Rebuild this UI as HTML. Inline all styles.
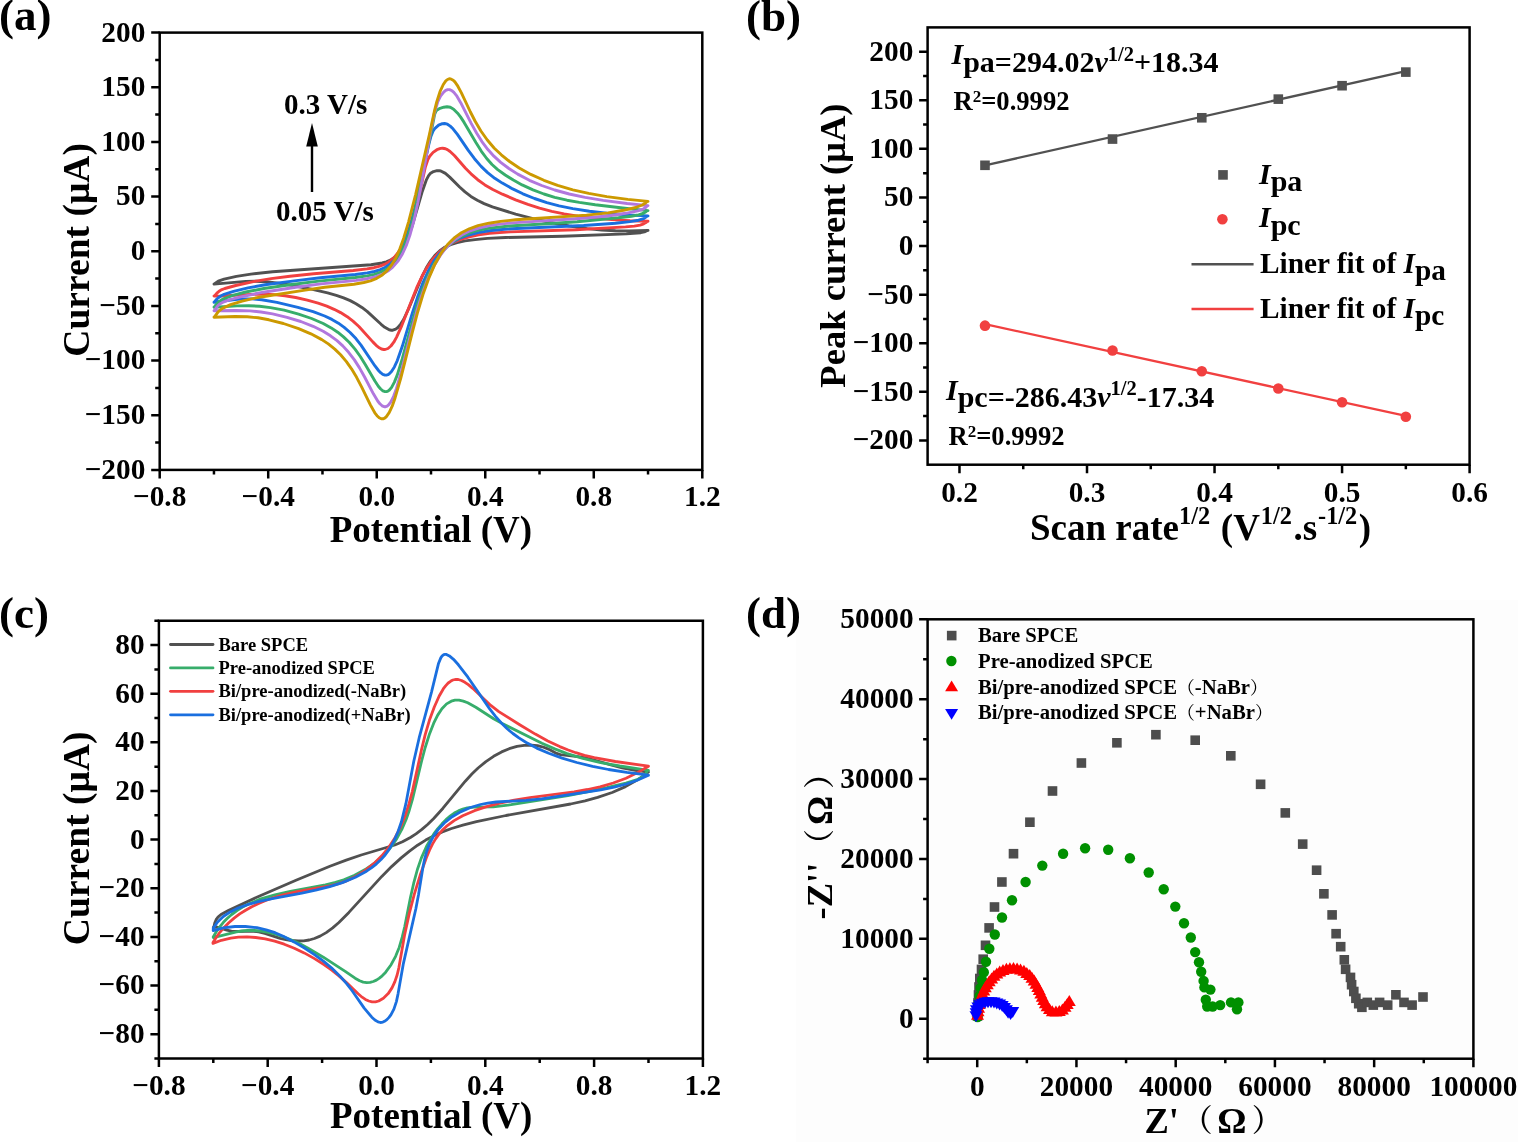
<!DOCTYPE html>
<html><head><meta charset="utf-8"><style>html,body{margin:0;padding:0;background:#fff;}svg{display:block}</style></head>
<body><svg width="1518" height="1142" viewBox="0 0 1518 1142" font-family="'Liberation Serif', 'Noto Serif CJK SC', serif" font-weight="bold">
<rect width="1518" height="1142" fill="#fff"/>
<rect x="796" y="600" width="722" height="542" fill="#fdfdfd"/>
<g fill="#4d4d4d"><rect x="972.7" y="1011.2" width="9.6" height="9.6"/><rect x="972.9" y="1005.2" width="9.6" height="9.6"/><rect x="973.2" y="998.2" width="9.6" height="9.6"/><rect x="973.7" y="990.2" width="9.6" height="9.6"/><rect x="974.2" y="982.2" width="9.6" height="9.6"/><rect x="975.0" y="973.7" width="9.6" height="9.6"/><rect x="976.7" y="964.6" width="9.6" height="9.6"/><rect x="978.4" y="954.4" width="9.6" height="9.6"/><rect x="980.7" y="940.5" width="9.6" height="9.6"/><rect x="984.3" y="923.1" width="9.6" height="9.6"/><rect x="989.7" y="902.2" width="9.6" height="9.6"/><rect x="997.1" y="877.2" width="9.6" height="9.6"/><rect x="1008.7" y="848.9" width="9.6" height="9.6"/><rect x="1025.1" y="817.4" width="9.6" height="9.6"/><rect x="1047.7" y="786.2" width="9.6" height="9.6"/><rect x="1076.6" y="758.2" width="9.6" height="9.6"/><rect x="1112.1" y="738.0" width="9.6" height="9.6"/><rect x="1151.1" y="729.9" width="9.6" height="9.6"/><rect x="1190.4" y="735.4" width="9.6" height="9.6"/><rect x="1226.0" y="751.0" width="9.6" height="9.6"/><rect x="1255.8" y="779.5" width="9.6" height="9.6"/><rect x="1280.5" y="808.1" width="9.6" height="9.6"/><rect x="1297.9" y="839.3" width="9.6" height="9.6"/><rect x="1311.8" y="865.4" width="9.6" height="9.6"/><rect x="1319.1" y="889.0" width="9.6" height="9.6"/><rect x="1327.3" y="910.1" width="9.6" height="9.6"/><rect x="1331.3" y="928.9" width="9.6" height="9.6"/><rect x="1335.9" y="941.9" width="9.6" height="9.6"/><rect x="1339.5" y="955.0" width="9.6" height="9.6"/><rect x="1340.8" y="964.5" width="9.6" height="9.6"/><rect x="1345.7" y="972.6" width="9.6" height="9.6"/><rect x="1346.8" y="979.9" width="9.6" height="9.6"/><rect x="1349.0" y="986.7" width="9.6" height="9.6"/><rect x="1351.1" y="993.5" width="9.6" height="9.6"/><rect x="1353.9" y="998.9" width="9.6" height="9.6"/><rect x="1357.1" y="1002.5" width="9.6" height="9.6"/><rect x="1362.5" y="997.6" width="9.6" height="9.6"/><rect x="1368.5" y="1000.3" width="9.6" height="9.6"/><rect x="1374.8" y="997.6" width="9.6" height="9.6"/><rect x="1382.9" y="1000.3" width="9.6" height="9.6"/><rect x="1391.1" y="990.0" width="9.6" height="9.6"/><rect x="1399.2" y="997.6" width="9.6" height="9.6"/><rect x="1407.3" y="1000.3" width="9.6" height="9.6"/><rect x="1418.2" y="992.2" width="9.6" height="9.6"/></g>
<g fill="#009000"><circle cx="977.6" cy="1017.0" r="5.2"/><circle cx="978.0" cy="1011.0" r="5.2"/><circle cx="978.5" cy="1004.0" r="5.2"/><circle cx="979.5" cy="996.0" r="5.2"/><circle cx="980.5" cy="988.0" r="5.2"/><circle cx="982.0" cy="980.0" r="5.2"/><circle cx="983.8" cy="972.2" r="5.2"/><circle cx="986.0" cy="961.8" r="5.2"/><circle cx="989.3" cy="948.8" r="5.2"/><circle cx="994.8" cy="934.5" r="5.2"/><circle cx="1002.0" cy="917.5" r="5.2"/><circle cx="1012.0" cy="900.2" r="5.2"/><circle cx="1025.6" cy="882.0" r="5.2"/><circle cx="1042.3" cy="865.6" r="5.2"/><circle cx="1063.1" cy="853.7" r="5.2"/><circle cx="1085.1" cy="848.2" r="5.2"/><circle cx="1108.2" cy="849.7" r="5.2"/><circle cx="1129.9" cy="858.3" r="5.2"/><circle cx="1148.7" cy="872.5" r="5.2"/><circle cx="1163.7" cy="889.3" r="5.2"/><circle cx="1175.3" cy="906.6" r="5.2"/><circle cx="1184.0" cy="923.2" r="5.2"/><circle cx="1190.8" cy="937.5" r="5.2"/><circle cx="1195.2" cy="952.1" r="5.2"/><circle cx="1199.0" cy="962.2" r="5.2"/><circle cx="1201.2" cy="971.8" r="5.2"/><circle cx="1203.6" cy="980.9" r="5.2"/><circle cx="1204.4" cy="987.4" r="5.2"/><circle cx="1210.4" cy="989.6" r="5.2"/><circle cx="1205.8" cy="999.7" r="5.2"/><circle cx="1207.2" cy="1006.5" r="5.2"/><circle cx="1212.6" cy="1006.5" r="5.2"/><circle cx="1220.2" cy="1005.1" r="5.2"/><circle cx="1231.0" cy="1002.4" r="5.2"/><circle cx="1238.4" cy="1002.4" r="5.2"/><circle cx="1237.0" cy="1009.2" r="5.2"/></g>
<g fill="#FF0000"><path d="M977.5 1008.8l6.5 11h-13z"/><path d="M978.0 1005.2l6.5 11h-13z"/><path d="M978.6 1001.7l6.5 11h-13z"/><path d="M979.2 998.1l6.5 11h-13z"/><path d="M980.1 994.7l6.5 11h-13z"/><path d="M981.1 991.2l6.5 11h-13z"/><path d="M982.4 987.8l6.5 11h-13z"/><path d="M983.8 984.5l6.5 11h-13z"/><path d="M985.3 981.3l6.5 11h-13z"/><path d="M987.3 978.3l6.5 11h-13z"/><path d="M989.2 975.2l6.5 11h-13z"/><path d="M991.6 972.5l6.5 11h-13z"/><path d="M994.0 969.8l6.5 11h-13z"/><path d="M996.8 967.6l6.5 11h-13z"/><path d="M999.7 965.5l6.5 11h-13z"/><path d="M1003.0 964.0l6.5 11h-13z"/><path d="M1006.4 962.8l6.5 11h-13z"/><path d="M1009.9 962.3l6.5 11h-13z"/><path d="M1013.5 962.1l6.5 11h-13z"/><path d="M1017.1 962.5l6.5 11h-13z"/><path d="M1020.5 963.5l6.5 11h-13z"/><path d="M1023.9 964.8l6.5 11h-13z"/><path d="M1026.8 966.9l6.5 11h-13z"/><path d="M1029.7 969.0l6.5 11h-13z"/><path d="M1032.0 971.8l6.5 11h-13z"/><path d="M1034.2 974.6l6.5 11h-13z"/><path d="M1036.0 977.8l6.5 11h-13z"/><path d="M1037.8 980.9l6.5 11h-13z"/><path d="M1039.3 984.1l6.5 11h-13z"/><path d="M1040.8 987.4l6.5 11h-13z"/><path d="M1042.3 990.7l6.5 11h-13z"/><path d="M1043.7 994.0l6.5 11h-13z"/><path d="M1045.3 997.2l6.5 11h-13z"/><path d="M1047.1 1000.3l6.5 11h-13z"/><path d="M1049.5 1003.0l6.5 11h-13z"/><path d="M1052.3 1005.2l6.5 11h-13z"/><path d="M1055.9 1005.6l6.5 11h-13z"/><path d="M1059.3 1005.0l6.5 11h-13z"/><path d="M1062.4 1003.4l6.5 11h-13z"/><path d="M1065.0 1000.8l6.5 11h-13z"/><path d="M1067.2 998.0l6.5 11h-13z"/><path d="M1069.3 995.1l6.5 11h-13z"/></g>
<g fill="#0000FF"><path d="M976.0 1022.2l6.5 -11h-13z"/><path d="M976.2 1019.2l6.5 -11h-13z"/><path d="M976.5 1016.2l6.5 -11h-13z"/><path d="M977.9 1013.6l6.5 -11h-13z"/><path d="M979.7 1011.3l6.5 -11h-13z"/><path d="M982.2 1009.7l6.5 -11h-13z"/><path d="M985.1 1008.8l6.5 -11h-13z"/><path d="M988.0 1008.2l6.5 -11h-13z"/><path d="M991.0 1008.2l6.5 -11h-13z"/><path d="M994.0 1008.5l6.5 -11h-13z"/><path d="M996.8 1009.4l6.5 -11h-13z"/><path d="M999.6 1010.6l6.5 -11h-13z"/><path d="M1002.2 1012.0l6.5 -11h-13z"/><path d="M1004.4 1014.1l6.5 -11h-13z"/><path d="M1006.4 1016.3l6.5 -11h-13z"/><path d="M1008.1 1018.7l6.5 -11h-13z"/><path d="M1010.6 1020.1l6.5 -11h-13z"/><path d="M1012.7 1018.0l6.5 -11h-13z"/></g>
<rect x="927.60" y="619.30" width="545.80" height="439.40" fill="none" stroke="#000" stroke-width="2.50"/>
<path d="M977.22 1058.70V1067.20M1076.45 1058.70V1067.20M1175.69 1058.70V1067.20M1274.93 1058.70V1067.20M1374.16 1058.70V1067.20M1473.40 1058.70V1067.20M927.60 1058.70V1063.20M1026.84 1058.70V1063.20M1126.07 1058.70V1063.20M1225.31 1058.70V1063.20M1324.55 1058.70V1063.20M1423.78 1058.70V1063.20M927.60 1018.75H919.10M927.60 938.86H919.10M927.60 858.97H919.10M927.60 779.08H919.10M927.60 699.19H919.10M927.60 619.30H919.10M927.60 1058.70H923.10M927.60 978.81H923.10M927.60 898.92H923.10M927.60 819.03H923.10M927.60 739.14H923.10M927.60 659.25H923.10" stroke="#000" stroke-width="2.50" fill="none"/>
<text x="977.22" y="1095.50" font-size="29.30" text-anchor="middle">0</text>
<text x="1076.45" y="1095.50" font-size="29.30" text-anchor="middle">20000</text>
<text x="1175.69" y="1095.50" font-size="29.30" text-anchor="middle">40000</text>
<text x="1274.93" y="1095.50" font-size="29.30" text-anchor="middle">60000</text>
<text x="1374.16" y="1095.50" font-size="29.30" text-anchor="middle">80000</text>
<text x="1473.40" y="1095.50" font-size="29.30" text-anchor="middle">100000</text>
<text x="913.60" y="1027.65" font-size="29.30" text-anchor="end">0</text>
<text x="913.60" y="947.76" font-size="29.30" text-anchor="end">10000</text>
<text x="913.60" y="867.87" font-size="29.30" text-anchor="end">20000</text>
<text x="913.60" y="787.98" font-size="29.30" text-anchor="end">30000</text>
<text x="913.60" y="708.09" font-size="29.30" text-anchor="end">40000</text>
<text x="913.60" y="628.20" font-size="29.30" text-anchor="end">50000</text>
<text x="746.00" y="627.50" font-size="45.00">(d)</text>
<rect x="946.9" y="630.8" width="9.6" height="9.6" fill="#4d4d4d"/>
<circle cx="951.4" cy="661.0" r="5.2" fill="#009000"/>
<path d="M951.6 680.5L958.1 691.2H945.1Z" fill="#FF0000"/>
<path d="M951.6 719.7L958.1 709H945.1Z" fill="#0000FF"/>
<text x="978.00" y="642.40" font-size="20.70">Bare SPCE</text>
<text x="978.00" y="667.80" font-size="20.70">Pre-anodized SPCE</text>
<text x="978.00" y="693.60" font-size="20.70">Bi/pre-anodized SPCE<tspan font-weight="normal" font-size="17.8">（</tspan>-NaBr<tspan font-weight="normal" font-size="17.8">）</tspan></text>
<text x="978.00" y="719.00" font-size="20.70">Bi/pre-anodized SPCE<tspan font-weight="normal" font-size="17.8">（</tspan>+NaBr<tspan font-weight="normal" font-size="17.8">）</tspan></text>
<text y="1132.5" font-size="36.5"><tspan x="1144.5">Z'</tspan><tspan x="1181.7" y="1130.7" font-size="30.9" font-weight="600">（</tspan><tspan x="1217.3" y="1132.5">Ω</tspan><tspan x="1251.7" y="1130.7" font-size="30.9" font-weight="600">）</tspan></text>
<text transform="translate(831.7 919.5) rotate(-90)" y="0" font-size="36.5"><tspan x="0">-Z''</tspan><tspan x="59.4" y="-2.1" font-size="30.9" font-weight="600">（</tspan><tspan x="94.5" y="0">Ω</tspan><tspan x="130.7" y="-2.1" font-size="30.9" font-weight="600">）</tspan></text>
<path d="M214.7 283.8L218.3 281.2L224.1 279.1L236.4 276.4L250.9 274.1L272.6 271.8L371.0 264.7L382.2 263.0L386.3 261.8L390.4 260.1L394.4 257.5L398.4 253.8L401.7 249.6L404.9 244.0L408.2 237.0L412.0 226.6L422.0 192.3L426.5 179.6L428.6 175.6L430.2 173.6L433.5 171.6L437.0 170.7L439.0 170.6L440.8 171.0L445.4 173.4L449.7 177.1L459.6 187.0L465.0 191.9L470.9 196.4L477.3 200.2L484.1 203.6L492.4 206.9L515.6 214.1L533.0 218.7L550.4 222.5L569.2 226.0L587.3 228.6L601.7 230.1L615.5 230.8L629.2 230.9L648.0 230.4L647.3 230.5L644.4 231.9L640.8 232.7L626.3 233.9L562.7 236.2L505.5 237.5L487.4 238.4L475.1 239.6L465.0 240.9L457.1 242.6L450.6 244.6L444.8 247.3L439.8 250.8L434.8 255.6L430.5 261.1L426.2 268.1L422.0 276.6L408.5 309.0L403.6 319.5L400.7 324.1L397.9 327.5L395.7 329.1L392.8 330.2L391.4 330.2L389.2 329.8L384.8 327.3L381.1 324.3L367.1 311.4L361.9 307.4L356.0 303.7L350.2 300.6L343.6 297.8L336.3 295.3L327.6 292.8L312.4 289.3L292.8 285.5L278.3 283.1L266.0 281.7L255.9 281.2L245.8 281.4L214.0 284.1L214.7 283.8" fill="none" stroke="#515151" stroke-width="2.90" stroke-linejoin="round" stroke-linecap="round"/>
<path d="M214.7 295.7L216.9 293.1L219.0 291.3L221.9 289.6L224.8 288.5L235.7 285.5L254.5 281.4L271.1 278.6L289.9 276.2L313.8 273.8L353.3 270.5L367.0 268.9L374.1 267.7L379.9 266.2L384.4 264.4L388.9 261.9L394.1 257.6L398.6 252.0L403.1 244.2L406.9 235.2L410.8 223.9L416.8 202.9L420.9 187.3L425.2 167.6L427.9 159.6L429.7 156.3L433.1 152.4L436.9 149.7L440.5 148.4L442.7 148.2L445.5 148.7L447.4 149.6L450.1 151.5L454.6 155.8L465.5 168.2L471.0 173.8L477.7 179.7L484.9 184.9L492.8 189.5L502.4 194.2L515.6 199.8L527.9 204.4L539.5 208.2L551.8 211.4L564.1 213.9L577.9 216.1L593.8 218.0L611.9 219.6L630.0 220.7L648.0 221.2L647.3 221.3L645.9 222.6L643.7 223.8L640.1 225.1L634.3 226.1L625.6 226.9L575.7 229.7L509.9 231.9L489.6 233.3L478.7 234.8L469.3 236.8L460.7 239.3L453.4 242.3L445.5 247.0L439.0 252.4L433.2 258.7L427.5 266.8L422.4 275.6L416.7 287.7L401.7 325.8L396.6 337.1L393.8 342.2L390.9 346.0L388.0 348.5L385.1 349.5L383.7 349.5L381.5 349.0L379.3 347.8L377.1 346.2L372.8 341.9L358.9 326.5L353.0 321.2L347.2 316.7L340.6 312.6L334.1 309.3L326.8 306.2L318.1 303.2L307.3 300.1L295.7 297.5L284.9 295.7L274.0 294.6L265.3 294.2L256.6 294.1L221.2 296.0L214.0 296.1L214.7 295.7" fill="none" stroke="#F14040" stroke-width="2.90" stroke-linejoin="round" stroke-linecap="round"/>
<path d="M214.7 301.7L216.1 299.8L218.3 297.7L221.2 295.8L224.1 294.4L233.5 291.4L248.0 287.9L266.8 284.5L296.4 280.6L320.3 277.8L355.4 274.5L367.3 272.9L374.5 271.5L380.4 269.6L384.9 267.5L389.5 264.6L394.1 260.3L398.6 254.4L402.5 247.3L405.7 239.8L409.5 228.4L414.0 211.7L429.0 143.7L430.8 136.8L433.0 131.2L435.0 128.3L438.6 125.2L442.4 123.7L444.6 123.5L447.4 124.2L450.2 126.1L453.0 128.8L457.4 134.4L468.3 150.4L474.5 158.7L481.1 166.4L487.6 172.6L494.8 178.3L502.3 183.1L512.7 188.9L522.9 193.8L534.5 198.5L546.8 202.6L559.1 205.9L572.8 208.6L589.4 211.2L609.0 213.4L628.5 215.0L648.0 215.9L647.3 216.0L643.7 218.6L638.6 220.2L630.0 221.6L615.5 223.2L583.7 225.5L511.3 228.8L499.0 229.7L488.9 230.8L478.0 232.6L468.6 235.0L460.7 237.8L453.4 241.6L446.2 246.8L439.7 253.4L433.9 261.2L428.2 271.3L423.1 282.3L417.4 297.6L412.3 313.1L402.3 346.3L397.3 360.6L394.4 366.9L391.5 371.5L389.3 373.8L387.9 374.7L386.4 375.1L385.0 375.1L382.8 374.3L380.6 372.7L378.5 370.5L374.8 365.7L361.0 345.1L355.9 338.6L350.1 332.5L344.2 327.4L338.4 323.2L331.9 319.4L324.7 316.0L313.1 311.7L297.9 307.4L276.9 302.4L261.7 299.8L252.3 298.9L242.9 298.9L232.8 299.7L214.0 302.2L214.7 301.7" fill="none" stroke="#1A6FDF" stroke-width="2.90" stroke-linejoin="round" stroke-linecap="round"/>
<path d="M214.7 306.6L216.1 304.5L218.3 302.2L221.2 300.1L224.1 298.6L232.8 295.4L245.8 292.0L263.9 288.5L289.9 284.8L318.9 281.1L355.4 277.5L367.3 275.9L374.5 274.3L381.0 272.1L386.2 269.5L390.8 266.2L396.0 260.7L400.5 253.9L404.4 245.9L408.3 235.5L412.1 222.3L416.0 206.1L425.8 156.0L431.0 133.3L434.6 114.4L435.9 111.4L436.8 110.2L440.0 108.3L443.8 107.2L447.0 106.8L450.3 107.3L453.6 109.2L457.6 113.2L460.5 116.9L464.1 122.4L475.9 142.6L481.4 151.3L486.7 158.5L492.0 164.5L497.7 169.6L505.2 175.0L513.3 180.1L522.1 184.9L533.0 189.9L543.9 194.0L554.7 197.3L567.0 200.2L579.3 202.4L595.2 204.7L629.2 208.7L648.0 210.6L647.3 210.6L645.1 212.3L643.0 213.5L638.6 214.9L631.4 216.2L618.4 217.8L577.1 221.7L551.1 223.5L509.1 226.0L489.6 228.1L478.7 230.2L470.1 232.7L462.1 236.1L454.9 240.3L447.6 246.2L444.0 249.9L440.4 254.3L433.9 264.1L428.2 275.4L422.4 289.5L417.4 304.5L412.4 321.6L402.3 358.7L397.3 374.9L394.4 382.1L391.6 387.4L389.4 390.0L387.9 391.1L386.5 391.6L385.1 391.6L382.9 390.8L380.7 389.0L378.5 386.5L374.9 381.0L365.4 364.7L360.3 356.5L355.2 349.4L349.4 342.5L343.5 336.9L337.7 332.2L331.2 327.9L323.2 323.5L311.6 318.5L298.6 314.1L284.1 310.2L270.4 307.6L259.5 306.2L248.7 305.7L237.1 305.9L214.0 307.2L214.7 306.6" fill="none" stroke="#37AD6B" stroke-width="2.90" stroke-linejoin="round" stroke-linecap="round"/>
<path d="M214.7 310.1L217.6 306.0L219.7 304.1L222.6 302.4L229.9 299.7L240.7 296.8L263.2 292.2L295.7 287.2L321.0 283.9L356.3 280.4L367.1 278.7L375.2 276.8L381.8 274.4L387.8 271.1L392.5 267.4L397.8 261.4L402.4 254.0L406.3 245.4L410.2 234.2L414.1 220.0L417.9 202.6L421.8 182.1L430.3 132.7L434.5 112.5L437.7 102.0L440.5 96.1L443.7 92.1L445.7 90.4L447.7 89.6L449.5 89.6L452.1 90.8L453.9 92.4L456.5 95.6L460.7 102.7L471.2 123.4L476.7 133.2L481.9 141.6L487.9 149.6L493.9 156.2L500.7 162.3L508.9 168.5L517.7 174.1L529.4 180.3L541.7 185.5L554.7 190.0L569.2 194.0L585.1 197.4L603.2 200.4L627.1 203.5L648.0 205.6L647.3 205.8L645.9 207.3L643.7 208.8L637.9 210.8L625.6 213.3L609.7 215.7L582.9 218.3L512.0 222.9L499.7 224.1L489.6 225.6L478.7 228.0L470.1 230.8L462.1 234.7L455.6 239.0L451.3 242.6L447.6 246.2L444.0 250.4L440.4 255.2L433.9 265.9L427.4 279.8L421.7 295.4L416.6 311.8L411.6 330.6L401.5 370.9L396.5 388.4L393.6 396.3L390.7 402.1L388.6 404.9L387.1 406.1L385.7 406.7L384.2 406.7L382.1 405.8L379.9 403.8L377.7 401.0L373.4 393.8L364.6 377.0L359.5 367.9L354.4 359.9L348.6 352.3L342.8 345.9L337.0 340.7L330.5 335.8L323.2 331.3L313.1 326.3L300.8 321.5L287.0 317.3L272.6 313.9L261.0 312.0L250.1 310.9L236.4 310.5L214.0 310.8L214.7 310.1" fill="none" stroke="#B177DE" stroke-width="2.90" stroke-linejoin="round" stroke-linecap="round"/>
<path d="M214.7 316.6L218.3 311.7L220.5 309.7L223.4 307.8L230.6 304.6L242.2 301.1L251.6 298.8L262.4 296.7L305.1 290.1L324.7 287.3L353.9 284.2L363.8 282.5L370.5 280.8L376.7 278.3L382.3 274.9L386.7 271.0L391.2 265.5L395.8 257.9L399.7 249.3L403.7 238.2L408.6 221.8L415.5 195.1L429.5 134.0L434.6 110.3L436.8 101.6L440.0 91.7L443.3 84.5L445.8 80.9L447.5 79.5L449.2 78.8L450.8 78.9L453.2 80.2L454.9 81.9L457.3 85.3L461.4 92.9L470.4 112.0L475.3 121.5L480.9 131.0L487.3 140.0L494.3 148.2L501.3 154.8L509.6 161.5L519.2 168.0L530.8 174.4L543.9 180.3L557.6 185.4L572.8 189.8L588.7 193.4L606.8 196.6L627.8 199.4L648.0 201.4L647.3 201.5L645.1 203.3L642.3 205.0L635.7 207.5L623.4 210.3L608.2 212.9L586.5 215.1L515.6 219.8L500.5 221.4L488.9 223.2L478.0 225.7L469.3 228.8L461.4 232.8L454.9 237.4L451.3 240.7L447.6 244.5L441.1 253.2L434.6 264.8L428.9 277.9L423.1 294.1L417.3 313.3L412.3 332.3L400.8 378.2L395.0 398.2L392.2 406.2L389.3 412.4L386.4 416.6L385.0 417.9L383.5 418.7L381.3 418.8L379.2 417.8L377.0 415.7L374.8 412.8L370.5 405.1L361.7 387.1L356.6 377.3L351.5 368.8L346.4 361.6L340.6 354.8L334.8 349.1L328.3 343.9L321.8 339.6L310.9 333.8L298.6 328.6L283.4 323.5L268.9 319.8L258.1 317.8L247.2 316.7L234.9 316.5L214.0 317.2L214.7 316.6" fill="none" stroke="#CC9900" stroke-width="2.90" stroke-linejoin="round" stroke-linecap="round"/>
<rect x="159.70" y="32.60" width="542.60" height="437.30" fill="none" stroke="#000" stroke-width="2.50"/>
<path d="M159.70 469.90V478.40M268.22 469.90V478.40M376.74 469.90V478.40M485.26 469.90V478.40M593.78 469.90V478.40M702.30 469.90V478.40M213.96 469.90V474.40M322.48 469.90V474.40M431.00 469.90V474.40M539.52 469.90V474.40M648.04 469.90V474.40M159.70 469.90H151.20M159.70 415.24H151.20M159.70 360.57H151.20M159.70 305.91H151.20M159.70 251.25H151.20M159.70 196.59H151.20M159.70 141.93H151.20M159.70 87.26H151.20M159.70 32.60H151.20M159.70 442.57H155.20M159.70 387.91H155.20M159.70 333.24H155.20M159.70 278.58H155.20M159.70 223.92H155.20M159.70 169.26H155.20M159.70 114.59H155.20M159.70 59.93H155.20" stroke="#000" stroke-width="2.50" fill="none"/>
<text x="159.70" y="506.30" font-size="29.30" text-anchor="middle">−0.8</text>
<text x="268.22" y="506.30" font-size="29.30" text-anchor="middle">−0.4</text>
<text x="376.74" y="506.30" font-size="29.30" text-anchor="middle">0.0</text>
<text x="485.26" y="506.30" font-size="29.30" text-anchor="middle">0.4</text>
<text x="593.78" y="506.30" font-size="29.30" text-anchor="middle">0.8</text>
<text x="702.30" y="506.30" font-size="29.30" text-anchor="middle">1.2</text>
<text x="145.30" y="478.80" font-size="29.30" text-anchor="end">−200</text>
<text x="145.30" y="424.14" font-size="29.30" text-anchor="end">−150</text>
<text x="145.30" y="369.47" font-size="29.30" text-anchor="end">−100</text>
<text x="145.30" y="314.81" font-size="29.30" text-anchor="end">−50</text>
<text x="145.30" y="260.15" font-size="29.30" text-anchor="end">0</text>
<text x="145.30" y="205.49" font-size="29.30" text-anchor="end">50</text>
<text x="145.30" y="150.83" font-size="29.30" text-anchor="end">100</text>
<text x="145.30" y="96.16" font-size="29.30" text-anchor="end">150</text>
<text x="145.30" y="41.50" font-size="29.30" text-anchor="end">200</text>
<text x="430.90" y="541.90" font-size="37.00" text-anchor="middle">Potential (V)</text>
<text transform="translate(89.2 249.9) rotate(-90)" font-size="37.6" text-anchor="middle">Current (μA)</text>
<text x="-1.00" y="30.00" font-size="45.00">(a)</text>
<text x="284.00" y="113.80" font-size="29.00">0.3 V/s</text>
<text x="276.00" y="221.00" font-size="29.00">0.05 V/s</text>
<path d="M312 192V140" stroke="#000" stroke-width="2.4"/><path d="M306.2 146.5L312 123L317.8 146.5Z" fill="#000"/>
<path d="M984.99 165.37L1405.84 71.08" stroke="#515151" stroke-width="2.3"/>
<path d="M984.99 324.14L1405.84 415.99" stroke="#F14040" stroke-width="2.3"/>
<rect x="980.19" y="160.50" width="9.6" height="9.6" fill="#515151"/>
<rect x="1107.72" y="134.26" width="9.6" height="9.6" fill="#515151"/>
<rect x="1196.99" y="112.98" width="9.6" height="9.6" fill="#515151"/>
<rect x="1273.51" y="94.32" width="9.6" height="9.6" fill="#515151"/>
<rect x="1337.27" y="80.91" width="9.6" height="9.6" fill="#515151"/>
<rect x="1401.04" y="67.30" width="9.6" height="9.6" fill="#515151"/>
<circle cx="984.99" cy="325.64" r="5.3" fill="#F14040"/>
<circle cx="1112.52" cy="350.52" r="5.3" fill="#F14040"/>
<circle cx="1201.79" cy="371.31" r="5.3" fill="#F14040"/>
<circle cx="1278.31" cy="388.51" r="5.3" fill="#F14040"/>
<circle cx="1342.07" cy="402.21" r="5.3" fill="#F14040"/>
<circle cx="1405.84" cy="416.79" r="5.3" fill="#F14040"/>
<rect x="927.60" y="27.40" width="542.00" height="437.30" fill="none" stroke="#000" stroke-width="2.50"/>
<path d="M959.48 464.70V473.20M1087.01 464.70V473.20M1214.54 464.70V473.20M1342.07 464.70V473.20M1469.60 464.70V473.20M1023.25 464.70V469.20M1150.78 464.70V469.20M1278.31 464.70V469.20M1405.84 464.70V469.20M927.60 440.41H919.10M927.60 391.82H919.10M927.60 343.23H919.10M927.60 294.64H919.10M927.60 246.05H919.10M927.60 197.46H919.10M927.60 148.87H919.10M927.60 100.28H919.10M927.60 51.69H919.10M927.60 416.11H923.10M927.60 367.52H923.10M927.60 318.93H923.10M927.60 270.34H923.10M927.60 221.76H923.10M927.60 173.17H923.10M927.60 124.58H923.10M927.60 75.99H923.10" stroke="#000" stroke-width="2.50" fill="none"/>
<text x="959.48" y="501.80" font-size="29.30" text-anchor="middle">0.2</text>
<text x="1087.01" y="501.80" font-size="29.30" text-anchor="middle">0.3</text>
<text x="1214.54" y="501.80" font-size="29.30" text-anchor="middle">0.4</text>
<text x="1342.07" y="501.80" font-size="29.30" text-anchor="middle">0.5</text>
<text x="1469.60" y="501.80" font-size="29.30" text-anchor="middle">0.6</text>
<text x="913.30" y="449.31" font-size="29.30" text-anchor="end">−200</text>
<text x="913.30" y="400.72" font-size="29.30" text-anchor="end">−150</text>
<text x="913.30" y="352.13" font-size="29.30" text-anchor="end">−100</text>
<text x="913.30" y="303.54" font-size="29.30" text-anchor="end">−50</text>
<text x="913.30" y="254.95" font-size="29.30" text-anchor="end">0</text>
<text x="913.30" y="206.36" font-size="29.30" text-anchor="end">50</text>
<text x="913.30" y="157.77" font-size="29.30" text-anchor="end">100</text>
<text x="913.30" y="109.18" font-size="29.30" text-anchor="end">150</text>
<text x="913.30" y="60.59" font-size="29.30" text-anchor="end">200</text>
<text transform="translate(845.3 245.6) rotate(-90)" font-size="36.6" text-anchor="middle">Peak current (μA)</text>
<text x="1030" y="539.8" font-size="37">Scan rate<tspan font-size="24.3" dy="-15.4">1/2</tspan><tspan dy="15.4" dx="1.5"> (V</tspan><tspan font-size="24.3" dy="-15.4" dx="1">1/2</tspan><tspan dy="15.4" dx="1.5">.s</tspan><tspan font-size="24.3" dy="-15.4" dx="1">-1/2</tspan><tspan dy="15.4" dx="1.5">)</tspan></text>
<text x="746.00" y="30.50" font-size="45.00">(b)</text>
<text x="951.5" y="64" font-size="30"><tspan font-style="italic">I</tspan><tspan dy="7.5">pa=294.02</tspan><tspan font-style="italic">v</tspan><tspan font-size="20.5" dy="-11">1/2</tspan><tspan dy="11">+18.34</tspan></text>
<text x="953.5" y="109.6" font-size="26.6">R<tspan font-size="17" dy="-8">2</tspan><tspan dy="8">=0.9992</tspan></text>
<text x="946" y="400" font-size="30"><tspan font-style="italic">I</tspan><tspan dy="7.2">pc=-286.43</tspan><tspan font-style="italic">v</tspan><tspan font-size="20.5" dy="-12">1/2</tspan><tspan dy="12">-17.34</tspan></text>
<text x="948.5" y="445.1" font-size="26.6">R<tspan font-size="17" dy="-8">2</tspan><tspan dy="8">=0.9992</tspan></text>
<rect x="1218.2" y="170.1" width="9.6" height="9.6" fill="#515151"/>
<circle cx="1222.4" cy="219.2" r="5.3" fill="#F14040"/>
<path d="M1191.5 264.3H1253.6" stroke="#515151" stroke-width="2.6"/>
<path d="M1191.5 309.0H1253.6" stroke="#F14040" stroke-width="2.6"/>
<text x="1259" y="184" font-size="30"><tspan font-style="italic">I</tspan><tspan dy="7">pa</tspan></text>
<text x="1259" y="227.4" font-size="30"><tspan font-style="italic">I</tspan><tspan dy="7.5">pc</tspan></text>
<text x="1260" y="273.2" font-size="29.3">Liner fit of <tspan font-style="italic">I</tspan><tspan dy="7.2">pa</tspan></text>
<text x="1260" y="318.2" font-size="29.3">Liner fit of <tspan font-style="italic">I</tspan><tspan dy="6.5">pc</tspan></text>
<path d="M214.1 926.1L214.7 923.0L216.1 919.7L218.0 917.1L221.0 914.5L228.8 910.3L255.6 897.8L296.0 880.2L329.9 866.2L346.2 860.1L361.2 855.0L394.8 845.0L402.5 841.8L410.4 837.5L416.0 833.9L421.9 829.4L427.6 824.5L433.5 818.7L443.0 808.2L465.3 781.2L472.1 773.8L478.1 768.0L485.9 761.6L493.6 756.3L501.6 751.9L509.2 748.7L517.0 746.4L524.1 745.3L531.2 745.1L537.5 745.7L542.2 746.8L546.0 748.1L549.8 749.8L556.6 753.4L560.4 754.6L577.9 756.6L584.3 757.6L592.4 759.5L611.8 765.2L622.2 767.8L635.3 770.3L648.5 772.1L647.8 772.3L642.6 776.3L636.7 780.4L625.5 786.6L612.2 792.5L597.6 797.4L585.0 800.8L570.6 804.0L506.0 815.5L476.5 821.7L462.8 825.2L451.6 828.5L442.3 831.9L433.5 835.9L425.7 840.1L417.6 845.2L409.2 851.3L401.2 857.9L391.6 866.6L381.8 876.4L348.9 912.4L338.9 922.5L332.7 927.9L326.2 932.6L320.1 936.1L314.4 938.5L309.2 940.0L303.7 940.8L298.1 941.0L291.5 940.5L285.8 939.6L280.1 938.3L264.8 933.3L258.7 931.8L251.7 931.0L237.9 931.5L231.5 931.2L226.8 930.2L218.3 927.3L215.9 927.0L213.3 927.4L214.1 926.1" fill="none" stroke="#515151" stroke-width="2.80" stroke-linejoin="round" stroke-linecap="round"/>
<path d="M213.2 937.0L216.3 931.7L219.7 926.8L223.4 922.3L227.4 918.2L231.7 914.5L237.0 910.6L242.6 907.1L248.5 904.0L260.9 898.9L274.9 894.8L290.3 891.3L325.4 884.9L335.5 882.4L343.8 879.8L354.6 875.2L365.1 869.6L374.9 862.8L383.7 855.2L390.6 847.5L396.5 839.2L401.8 829.4L406.2 819.2L409.3 810.2L412.5 799.1L421.5 761.4L425.2 747.5L429.2 734.8L433.7 723.2L437.7 715.1L441.9 708.8L446.6 703.9L451.3 701.2L455.0 700.2L459.1 700.2L463.3 701.1L467.7 702.8L475.8 707.3L493.6 718.8L502.8 723.8L541.9 743.2L555.3 749.1L567.1 753.6L582.8 758.4L600.6 762.6L619.7 766.0L648.5 770.3L647.8 770.3L645.5 773.8L642.7 776.4L640.5 778.0L637.2 779.5L625.9 783.0L606.8 787.7L588.3 791.7L567.9 795.5L511.1 804.7L493.3 806.8L474.0 807.2L467.3 807.9L462.8 809.1L458.4 810.9L454.3 813.1L450.4 815.9L446.0 819.6L442.0 823.8L437.6 828.9L433.7 834.2L427.0 845.4L421.3 858.1L417.4 869.5L413.7 883.2L410.5 897.2L404.7 926.8L402.2 937.2L399.2 947.4L395.6 956.3L391.1 964.7L385.5 972.4L382.2 975.8L379.4 978.1L376.4 980.1L373.3 981.5L370.1 982.4L366.7 982.6L363.2 982.1L359.6 980.8L355.1 978.2L345.2 971.4L323.3 957.2L307.7 947.9L299.5 943.6L290.9 939.7L282.8 936.5L274.6 933.9L267.2 932.1L260.7 931.0L254.2 930.5L247.6 930.5L242.0 931.0L236.4 931.9L213.4 937.7L213.2 937.0" fill="none" stroke="#37AD6B" stroke-width="2.80" stroke-linejoin="round" stroke-linecap="round"/>
<path d="M213.0 942.6L216.3 937.3L219.9 932.3L223.9 927.7L228.8 922.7L234.1 918.1L239.7 913.9L245.6 910.2L251.8 906.7L258.1 903.7L265.7 900.5L273.4 897.8L282.2 895.2L298.3 891.4L330.1 885.9L337.8 883.9L345.3 881.4L355.4 876.6L364.9 870.7L373.8 863.7L381.8 855.8L388.8 847.3L395.2 837.4L400.9 826.2L405.6 814.4L408.9 804.1L412.3 791.5L421.4 750.2L425.2 734.7L429.4 720.3L434.3 707.0L439.2 696.0L443.4 688.7L445.8 685.6L448.2 683.0L450.9 681.1L452.9 680.0L455.9 679.4L458.2 679.5L461.5 680.5L464.9 682.3L468.3 684.7L472.7 688.3L490.8 705.4L498.8 711.6L519.7 724.7L535.3 734.1L547.8 740.9L559.7 746.6L568.2 750.0L575.8 752.7L584.5 755.3L594.3 757.6L615.3 761.5L648.5 766.2L636.7 773.1L626.0 778.2L613.2 783.0L600.0 786.8L587.6 789.5L574.1 791.9L530.0 797.7L514.3 800.2L499.9 803.1L486.6 806.6L474.5 810.7L462.7 815.8L454.1 820.6L446.3 826.4L442.8 829.7L439.0 834.1L435.6 838.9L432.6 843.9L429.5 850.2L426.8 856.6L420.1 875.3L414.4 893.8L409.3 913.4L404.5 935.5L398.9 967.6L397.2 974.8L394.9 981.6L392.0 987.9L388.2 993.6L383.4 998.2L378.7 1001.0L375.5 1001.9L372.1 1001.9L368.8 1001.0L365.4 999.4L362.1 997.2L358.1 993.8L346.5 982.6L338.9 975.9L332.1 970.4L324.3 964.8L314.5 958.6L304.2 952.9L294.3 948.2L284.2 944.2L274.7 941.2L265.2 938.9L255.7 937.5L247.0 936.9L238.4 937.2L230.8 938.1L221.4 940.3L213.0 943.4L213.0 942.6" fill="none" stroke="#F14040" stroke-width="2.80" stroke-linejoin="round" stroke-linecap="round"/>
<path d="M213.3 928.1L217.4 922.2L223.3 916.5L230.3 911.9L238.1 908.1L247.4 904.7L258.3 901.7L272.3 898.7L301.8 893.2L315.7 890.2L329.7 886.7L342.3 882.6L355.4 877.3L366.5 871.2L371.7 867.6L376.5 863.8L381.0 859.6L384.4 855.8L389.3 849.1L394.0 840.9L397.9 832.0L401.5 821.5L405.9 803.7L413.8 761.2L419.2 737.7L431.5 692.1L438.4 663.8L440.8 657.9L442.2 655.8L443.8 654.6L445.1 654.3L446.4 654.4L449.4 655.9L453.5 659.3L458.4 664.8L467.9 677.2L489.5 708.6L495.5 716.3L501.1 722.7L507.2 728.7L512.9 733.5L518.9 737.9L526.2 742.5L536.7 748.1L548.7 753.3L562.1 758.1L576.8 762.5L592.6 766.3L608.5 769.5L626.8 772.4L648.5 775.2L637.2 780.2L626.4 784.0L614.2 787.2L600.7 789.9L541.7 798.8L526.0 800.3L496.1 802.0L487.7 803.1L480.5 804.5L470.5 807.5L461.0 811.6L452.2 816.7L444.3 823.0L438.1 829.6L433.5 836.2L429.7 843.5L426.7 851.5L424.7 858.8L423.1 866.4L418.5 894.7L415.8 909.0L403.2 964.4L398.1 993.6L396.4 1001.6L393.9 1009.1L390.9 1014.8L389.0 1017.4L386.9 1019.6L384.5 1021.3L382.9 1022.1L380.4 1022.5L378.0 1021.9L374.9 1020.0L371.8 1017.2L364.2 1008.1L352.3 991.0L347.0 984.2L340.0 976.2L331.7 968.1L323.7 961.4L314.5 954.6L304.9 948.3L294.0 941.9L283.8 936.5L275.1 932.7L266.1 929.8L256.9 927.7L245.4 926.5L234.9 926.5L223.4 927.9L213.2 930.6L213.3 928.1" fill="none" stroke="#1A6FDF" stroke-width="2.80" stroke-linejoin="round" stroke-linecap="round"/>
<rect x="158.90" y="620.75" width="544.00" height="437.75" fill="none" stroke="#000" stroke-width="2.50"/>
<path d="M158.90 1058.50V1067.00M267.70 1058.50V1067.00M376.50 1058.50V1067.00M485.30 1058.50V1067.00M594.10 1058.50V1067.00M702.90 1058.50V1067.00M213.30 1058.50V1063.00M322.10 1058.50V1063.00M430.90 1058.50V1063.00M539.70 1058.50V1063.00M648.50 1058.50V1063.00M158.90 1034.18H150.40M158.90 985.54H150.40M158.90 936.90H150.40M158.90 888.26H150.40M158.90 839.62H150.40M158.90 790.99H150.40M158.90 742.35H150.40M158.90 693.71H150.40M158.90 645.07H150.40M158.90 1058.50H154.40M158.90 1009.86H154.40M158.90 961.22H154.40M158.90 912.58H154.40M158.90 863.94H154.40M158.90 815.31H154.40M158.90 766.67H154.40M158.90 718.03H154.40M158.90 669.39H154.40M158.90 620.75H154.40" stroke="#000" stroke-width="2.50" fill="none"/>
<text x="158.90" y="1095.30" font-size="29.30" text-anchor="middle">−0.8</text>
<text x="267.70" y="1095.30" font-size="29.30" text-anchor="middle">−0.4</text>
<text x="376.50" y="1095.30" font-size="29.30" text-anchor="middle">0.0</text>
<text x="485.30" y="1095.30" font-size="29.30" text-anchor="middle">0.4</text>
<text x="594.10" y="1095.30" font-size="29.30" text-anchor="middle">0.8</text>
<text x="702.90" y="1095.30" font-size="29.30" text-anchor="middle">1.2</text>
<text x="144.60" y="1043.08" font-size="29.30" text-anchor="end">−80</text>
<text x="144.60" y="994.44" font-size="29.30" text-anchor="end">−60</text>
<text x="144.60" y="945.80" font-size="29.30" text-anchor="end">−40</text>
<text x="144.60" y="897.16" font-size="29.30" text-anchor="end">−20</text>
<text x="144.60" y="848.52" font-size="29.30" text-anchor="end">0</text>
<text x="144.60" y="799.89" font-size="29.30" text-anchor="end">20</text>
<text x="144.60" y="751.25" font-size="29.30" text-anchor="end">40</text>
<text x="144.60" y="702.61" font-size="29.30" text-anchor="end">60</text>
<text x="144.60" y="653.97" font-size="29.30" text-anchor="end">80</text>
<text x="431.20" y="1128.20" font-size="37.00" text-anchor="middle">Potential (V)</text>
<text transform="translate(89.2 838.3) rotate(-90)" font-size="37.6" text-anchor="middle">Current (μA)</text>
<text x="-1.00" y="627.80" font-size="45.00">(c)</text>
<path d="M170.5 644.5H213" stroke="#515151" stroke-width="2.8" stroke-linecap="round"/>
<text x="218.50" y="650.60" font-size="18.50">Bare SPCE</text>
<path d="M170.5 667.9H213" stroke="#37AD6B" stroke-width="2.8" stroke-linecap="round"/>
<text x="218.50" y="674.00" font-size="18.50">Pre-anodized SPCE</text>
<path d="M170.5 691.3H213" stroke="#F14040" stroke-width="2.8" stroke-linecap="round"/>
<text x="218.50" y="697.40" font-size="18.50">Bi/pre-anodized(-NaBr)</text>
<path d="M170.5 714.8H213" stroke="#1A6FDF" stroke-width="2.8" stroke-linecap="round"/>
<text x="218.50" y="720.90" font-size="18.50">Bi/pre-anodized(+NaBr)</text>
</svg></body></html>
